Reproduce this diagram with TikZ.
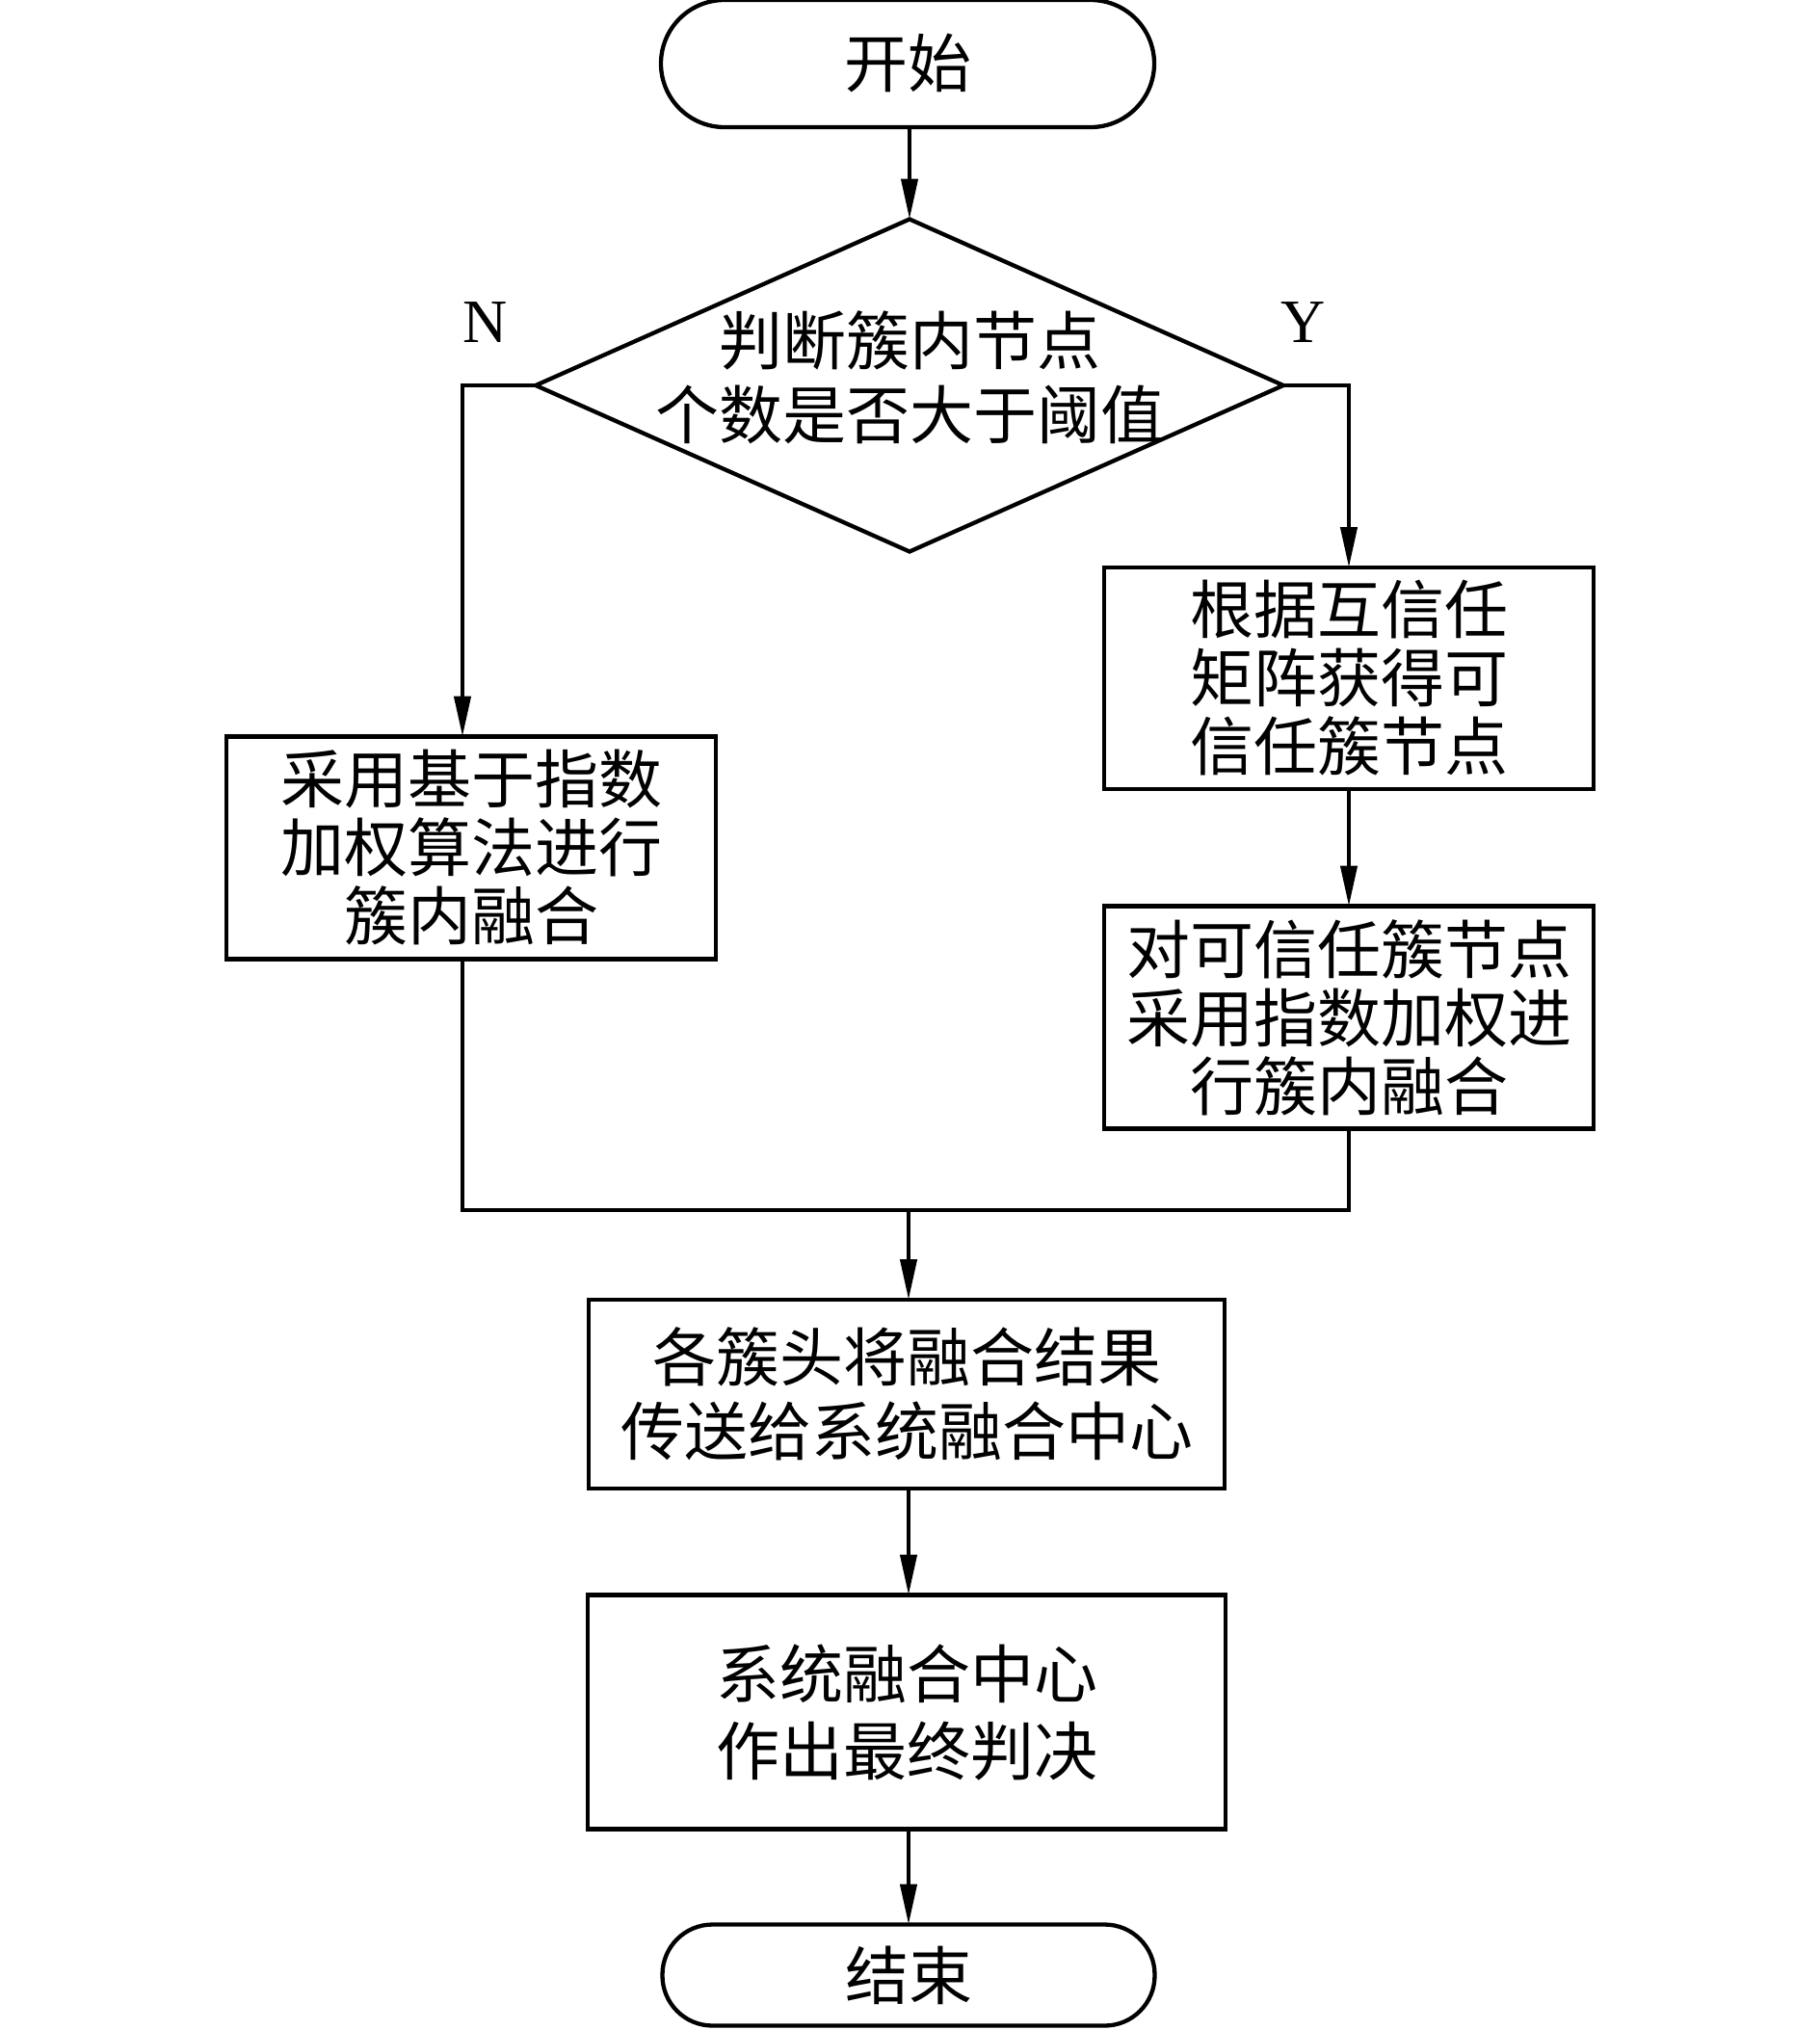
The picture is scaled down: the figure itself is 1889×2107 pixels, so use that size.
\documentclass[tikz,border=0pt]{standalone}
\usepackage{fontspec}
\setmainfont{Liberation Serif}
\newfontfamily\cjk{Noto Sans CJK SC}
\usetikzlibrary{arrows.meta,shapes.geometric}
\begin{document}
\begin{tikzpicture}[x=1pt,y=-1pt,
  every node/.style={inner sep=0pt,outer sep=0pt},
  cjkfont/.style={font=\cjk\fontsize{66}{71}\selectfont},
  box/.style={draw,line width=4.3pt,rectangle,align=center,cjkfont},
  term/.style={box,rounded corners=#1},
  txt/.style={align=center,cjkfont},
  ln/.style={line width=4.3pt,line join=miter},
  arr/.style={ln,-{Triangle[length=42pt,width=17pt]}},
  lab/.style={font=\fontsize{64}{70}\selectfont}]
\useasboundingbox (0,0) rectangle (1889,2107);

\node[term=66pt,minimum width=512pt,minimum height=132pt] (start) at (942,66) {开始};
\node[draw,diamond,line width=4.3pt,minimum width=776pt,minimum height=345pt] (dec) at (944,400) {};
\node[txt,font=\cjk\fontsize{66}{77}\selectfont] (dectext) at (944,392) {判断簇内节点\\个数是否大于阈值};
\node[lab] (nlab) at (504,335) {N};
\node[lab] (ylab) at (1353,335) {Y};

\node[box,minimum width=508pt,minimum height=231pt] (lbox) at (489,880) {采用基于指数\\加权算法进行\\簇内融合};
\node[box,minimum width=508pt,minimum height=230pt] (rbox1) at (1400,704) {根据互信任\\矩阵获得可\\信任簇节点};
\node[box,minimum width=508pt,minimum height=231pt] (rbox2) at (1400,1056) {对可信任簇节点\\采用指数加权进\\行簇内融合};
\node[box,font=\cjk\fontsize{66}{77}\selectfont,minimum width=660pt,minimum height=196pt] (box3) at (941,1447) {各簇头将融合结果\\传送给系统融合中心};
\node[box,font=\cjk\fontsize{66}{80}\selectfont,minimum width=662pt,minimum height=243pt] (box4) at (941,1777) {系统融合中心\\作出最终判决};
\node[term=52pt,minimum width=511pt,minimum height=105pt] (end) at (943,2050) {结束};

\coordinate (j) at (943,1256);

\draw[arr] (start.south -| dec.north) -- (dec.north);
\draw[arr] (dec.west) -| ([xshift=-9pt]lbox.north);
\draw[arr] (dec.east) -| (rbox1.north);
\draw[arr] (rbox1) -- (rbox2);
\draw[ln] ([xshift=-9pt]lbox.south) |- (j) -| (rbox2.south);
\draw[arr] (j) -- (j |- box3.north);
\draw[arr] (j |- box3.south) -- (j |- box4.north);
\draw[arr] (j |- box4.south) -- (end.north);
\end{tikzpicture}
\end{document}
